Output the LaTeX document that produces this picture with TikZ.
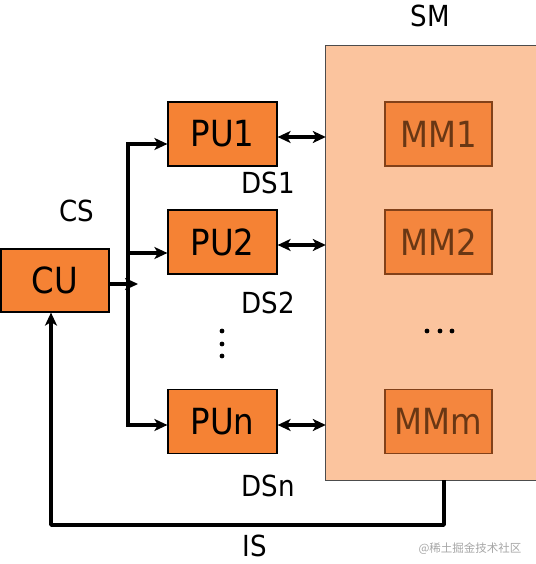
\documentclass[tikz,border=0pt]{standalone}
\usepackage{fontspec}
\setmainfont{DejaVu Sans}[FakeStretch=0.9]
\newfontfamily\cjkfont{Noto Sans CJK SC}
\usetikzlibrary{arrows.meta}
\definecolor{pufill}{RGB}{245,130,52}
\definecolor{smfill}{RGB}{251,196,158}
\definecolor{mmfill}{RGB}{244,134,62}
\definecolor{mmedge}{RGB}{130,65,25}
\definecolor{mmtext}{RGB}{105,55,20}
\begin{document}
\begin{tikzpicture}[x=1pt,y=-1pt,
  pubox/.style={draw=black, line width=1.2pt, fill=pufill, inner sep=0pt,
    minimum width=109pt, minimum height=64pt, font=\fontsize{36}{40}\selectfont},
  mmbox/.style={draw=mmedge, line width=1.2pt, fill=mmfill, inner sep=0pt,
    minimum width=107pt, minimum height=64pt, text=mmtext, font=\fontsize{36}{40}\selectfont},
  lbl/.style={font=\fontsize{29}{32}\selectfont, inner sep=0pt},
  bus/.style={line width=3.8pt},
  arr/.style={line width=3.8pt, -{Stealth[length=13pt,width=12pt,inset=3.5pt]}},
  darr/.style={line width=3.6pt, {Stealth[length=13pt,width=12pt,inset=3.5pt]}-{Stealth[length=13pt,width=12pt,inset=3.5pt]}}
]
\useasboundingbox (0,0) rectangle (535,564);
% shared memory
\node[fill=smfill, minimum width=224pt, minimum height=434pt, inner sep=0pt] (sm) at (438,263) {};
\draw[black!70, line width=1pt] (sm.north east) -- (sm.north west) -- (sm.south west) -- (sm.south east);
\node[lbl] (smlbl) at (430,16) {SM};
\node[mmbox] (mm1) at (438.5,134) {MM1};
\node[mmbox] (mm2) at (438.5,242) {MM2};
\node[mmbox] (mmm) at (438.5,421.5) {MMm};
\fill (427,331) circle (2.4) (440,331) circle (2.4) (452,331) circle (2.4);
% processing units
\node[pubox] (pu1) at (222.5,134) {PU1};
\node[pubox] (pu2) at (222.5,242) {PU2};
\node[pubox] (pun) at (222.5,421.5) {PUn};
\fill (222,331) circle (2.4) (222,344) circle (2.4) (222,356) circle (2.4);
% control unit
\node[pubox, minimum width=108pt, minimum height=63pt] (cu) at (55,280.5) {CU};
% labels
\node[lbl] (cs) at (77,211) {CS};
\node[lbl] (ds1) at (268,183) {DS1};
\node[lbl] (ds2) at (268,303) {DS2};
\node[lbl] (dsn) at (268,486) {DSn};
\node[lbl] (is) at (255,546) {IS};
\node[font=\cjkfont\fontsize{11.5}{13}\selectfont, text=black!35] (wm) at (470,549) {@稀土掘金技术社区};
% control bus
\coordinate (bt) at (128,144);
\coordinate (b2) at (128,253);
\coordinate (bb) at (128,425);
\coordinate (bm) at (128,284);
\draw[bus] (bt) -- (bb);
\draw[arr] ([xshift=-1.9pt]bt) -- (bt -| pu1.west);
\draw[arr] (b2) -- (b2 -| pu2.west);
\draw[arr] ([xshift=-1.9pt]bb) -- (bb -| pun.west);
\draw[arr] (cu.east |- bm) -- ([xshift=10pt]bm);
% data streams
\coordinate (d1) at (300,137);
\coordinate (d2) at (300,245);
\coordinate (dn) at (300,425);
\draw[darr] (d1 -| pu1.east) -- (d1 -| sm.west);
\draw[darr] (d2 -| pu2.east) -- (d2 -| sm.west);
\draw[darr] (dn -| pun.east) -- (dn -| sm.west);
% instruction stream
\coordinate (isr) at (444,525);
\coordinate (isl) at (51,525);
\draw[arr, line join=round] (isr |- sm.south) -- (isr) -- (isl) -- (isl |- cu.south);
\end{tikzpicture}
\end{document}
